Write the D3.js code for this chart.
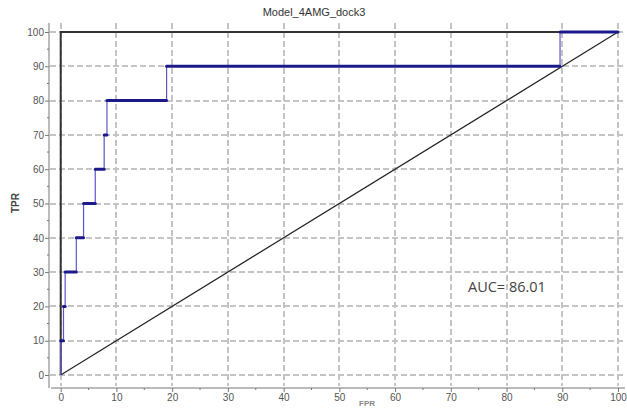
<!DOCTYPE html>
<html>
<head>
<meta charset="utf-8">
<script src="https://cdn.jsdelivr.net/npm/d3@7/dist/d3.min.js"></script>
<style>
  body { margin: 0; background: #fff; }
  svg { display: block; }
  .tick text { font-family: "Liberation Sans", Arial, sans-serif; font-size: 10px; fill: #555; }
</style>
</head>
<body>
<div id="roc"></div>
<script>
// ROC steps: FPR where TPR jumps, and the TPR it jumps to
let stepFpr = [0, 0.5, 0.8, 2.8, 4.1, 6.2, 7.8, 8.3, 19, 89.6]
let stepTpr = [10, 20, 30, 40, 50, 60, 70, 80, 90, 100]
let endFpr = 100
let diagonal = [[0, 0], [100, 100]]
let perfect = [[0, 0], [0, 100], [100, 100]]
let tickValues = [0, 10, 20, 30, 40, 50, 60, 70, 80, 90, 100]
let minorTicks = [5, 15, 25, 35, 45, 55, 65, 75, 85, 95]
let title = "Model_4AMG_dock3"
let aucLabel = "AUC= 86.01"

let W = 627, H = 408

let svg = d3.select("#roc").append("svg")
  .attr("width", W)
  .attr("height", H)

let x = d3.scaleLinear().domain([0, 100]).range([60.7, 618])
let y = d3.scaleLinear().domain([0, 100]).range([375, 32])

let frameL = 49, frameR = 625, frameT = 23, frameB = 388

// grid
let gridV = svg.append("g")
gridV.selectAll("line").data(tickValues).join("line")
  .attr("x1", d => Math.round(x(d))).attr("x2", d => Math.round(x(d)))
  .attr("y1", frameT).attr("y2", frameB - 2)
  .style("stroke", "#c4c4c4").style("stroke-width", 2)
  .style("stroke-dasharray", "6,3")
let gridH = svg.append("g")
gridH.selectAll("line").data(tickValues).join("line")
  .attr("x1", frameL + 1).attr("x2", frameR)
  .attr("y1", d => Math.round(y(d))).attr("y2", d => Math.round(y(d)))
  .style("stroke", "#c4c4c4").style("stroke-width", 2)
  .style("stroke-dasharray", "6,3")

// axes
let yAxis = svg.append("g")
  .attr("transform", "translate(" + frameL + ",0)")
  .call(d3.axisLeft(y).tickValues(tickValues).tickSize(4).tickSizeOuter(0))
yAxis.select(".domain").attr("d", "M0," + frameT + "V" + frameB).attr("stroke", "#777")
yAxis.selectAll(".tick line").attr("stroke", "#777")
yAxis.selectAll(".tick text").attr("x", -5)
yAxis.append("g").selectAll("line").data(minorTicks).join("line")
  .attr("x1", -2).attr("x2", 0)
  .attr("y1", d => y(d)).attr("y2", d => y(d))
  .attr("stroke", "#777")

let xAxis = svg.append("g")
  .attr("transform", "translate(0," + frameB + ")")
  .call(d3.axisBottom(x).tickValues(tickValues).tickSize(4).tickSizeOuter(0))
xAxis.select(".domain").attr("d", "M" + (frameL + 2) + ",0H" + frameR).attr("stroke", "#777")
xAxis.selectAll(".tick line").attr("stroke", "#777")
xAxis.selectAll(".tick text").attr("y", 6)
xAxis.append("g").selectAll("line").data(minorTicks).join("line")
  .attr("x1", d => x(d)).attr("x2", d => x(d))
  .attr("y1", 0).attr("y2", 2)
  .attr("stroke", "#777")

// reference lines
let line = d3.line().x(d => x(d[0])).y(d => y(d[1]))
svg.append("path").datum(perfect)
  .attr("d", line).attr("fill", "none")
  .attr("stroke", "#333").attr("stroke-width", 2)
svg.append("path").datum(diagonal)
  .attr("d", line).attr("fill", "none")
  .attr("stroke", "#222").attr("stroke-width", 1.2)

// ROC: thin verticals, thick horizontals
let prevTpr = [0].concat(stepTpr.slice(0, -1))
svg.append("g").selectAll("line").data(stepFpr).join("line")
  .attr("x1", d => x(d)).attr("x2", d => x(d))
  .attr("y1", (d, i) => y(prevTpr[i])).attr("y2", (d, i) => y(stepTpr[i]))
  .attr("stroke", "#5b55c8").attr("stroke-width", 1.2)
let nextFpr = stepFpr.slice(1).concat([endFpr])
svg.append("g").selectAll("line").data(stepFpr).join("line")
  .attr("x1", d => x(d)).attr("x2", (d, i) => x(nextFpr[i]))
  .attr("y1", (d, i) => y(stepTpr[i])).attr("y2", (d, i) => y(stepTpr[i]))
  .attr("stroke", "#1c1a8a").attr("stroke-width", 3)
  .attr("stroke-linecap", "round")

// labels
svg.append("text")
  .attr("x", 314).attr("y", 16)
  .attr("text-anchor", "middle")
  .style("font-family", "Liberation Sans, Arial, sans-serif")
  .style("font-size", "11px").style("fill", "#333")
  .text(title)

svg.append("text")
  .attr("transform", "translate(19,203) rotate(-90)")
  .attr("text-anchor", "middle")
  .style("font-family", "Liberation Sans, Arial, sans-serif")
  .style("font-size", "10px").style("font-weight", "bold").style("fill", "#444")
  .text("TPR")

svg.append("text")
  .attr("x", 367).attr("y", 406)
  .attr("text-anchor", "middle")
  .style("font-family", "Liberation Sans, Arial, sans-serif")
  .style("font-size", "8px").style("font-weight", "bold").style("fill", "#888")
  .text("FPR")

svg.append("text")
  .attr("x", 468).attr("y", 292)
  .style("font-family", "Open Sans, sans-serif")
  .style("font-size", "14.5px").style("fill", "#444")
  .text(aucLabel)
</script>
</body>
</html>
